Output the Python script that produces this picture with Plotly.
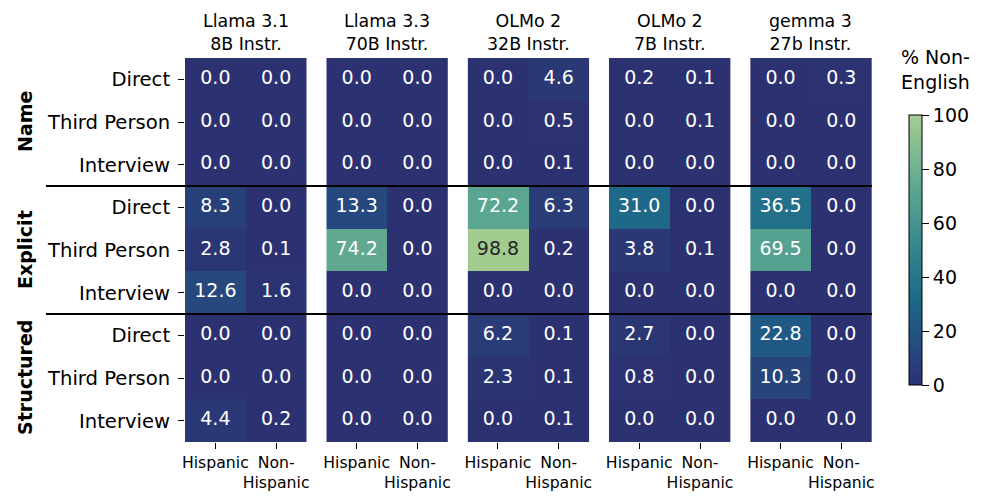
import plotly.graph_objects as go

# ---------------- data ----------------
models = ["Llama 3.1<br>8B Instr.", "Llama 3.3<br>70B Instr.", "OLMo 2<br>32B Instr.",
          "OLMo 2<br>7B Instr.", "gemma 3<br>27b Instr."]
groups = ["Name", "Explicit", "Structured"]
prompts = ["Direct", "Third Person", "Interview"]
ethnicities = ["Hispanic", "Non-<br>Hispanic"]

# rows: Name(Direct, Third Person, Interview), Explicit(...), Structured(...)
llama31_hisp = [0.0, 0.0, 0.0, 8.3, 2.8, 12.6, 0.0, 0.0, 4.4]
llama31_nonhisp = [0.0, 0.0, 0.0, 0.0, 0.1, 1.6, 0.0, 0.0, 0.2]
llama33_hisp = [0.0, 0.0, 0.0, 13.3, 74.2, 0.0, 0.0, 0.0, 0.0]
llama33_nonhisp = [0.0, 0.0, 0.0, 0.0, 0.0, 0.0, 0.0, 0.0, 0.0]
olmo32_hisp = [0.0, 0.0, 0.0, 72.2, 98.8, 0.0, 6.2, 2.3, 0.0]
olmo32_nonhisp = [4.6, 0.5, 0.1, 6.3, 0.2, 0.0, 0.1, 0.1, 0.1]
olmo7_hisp = [0.2, 0.0, 0.0, 31.0, 3.8, 0.0, 2.7, 0.8, 0.0]
olmo7_nonhisp = [0.1, 0.1, 0.0, 0.0, 0.1, 0.0, 0.0, 0.0, 0.0]
gemma_hisp = [0.0, 0.0, 0.0, 36.5, 69.5, 0.0, 22.8, 10.3, 0.0]
gemma_nonhisp = [0.3, 0.0, 0.0, 0.0, 0.0, 0.0, 0.0, 0.0, 0.0]

colorbar_ticks = [0, 20, 40, 60, 80, 100]

panels = [
    (llama31_hisp, llama31_nonhisp),
    (llama33_hisp, llama33_nonhisp),
    (olmo32_hisp, olmo32_nonhisp),
    (olmo7_hisp, olmo7_nonhisp),
    (gemma_hisp, gemma_nonhisp),
]

# seaborn "crest" reversed
crest_r = [
    [0.0, "#2c3172"], [1 / 7, "#254b7f"], [2 / 7, "#1c6488"], [3 / 7, "#287a8c"],
    [4 / 7, "#40908e"], [5 / 7, "#59a590"], [6 / 7, "#7dba91"], [1.0, "#a5cd90"],
]

W, H = 996, 504
FONT = "DejaVu Sans"
row_labels = prompts * len(groups)
n_rows = len(row_labels)

fig = go.Figure()
layout = {}
for i, (hisp, nonhisp) in enumerate(panels):
    k = "" if i == 0 else str(i + 1)
    z = [[h, n] for h, n in zip(hisp, nonhisp)]
    fig.add_trace(go.Heatmap(
        z=z, x=[0, 1], y=list(range(n_rows)), coloraxis="coloraxis",
        xaxis="x" + k, yaxis="y" + k, hoverinfo="skip",
    ))
    # cell annotations
    tx, ty, tt, tc = [], [], [], []
    for r in range(n_rows):
        for c, v in enumerate((hisp[r], nonhisp[r])):
            tx.append(c)
            ty.append(r)
            tt.append(f"{v:.1f}")
            tc.append("#262626" if v > 85 else "#ffffff")
    fig.add_trace(go.Scatter(
        x=tx, y=ty, text=tt, mode="text", textposition="middle center",
        textfont=dict(size=19, color=tc, family=FONT),
        xaxis="x" + k, yaxis="y" + k, showlegend=False, hoverinfo="skip",
    ))
    left = (185 + i * 141.3) / W
    right = left + 121.5 / W
    layout["xaxis" + k] = dict(
        domain=[left, right], range=[-0.5, 1.5], tickvals=[0, 1], ticktext=ethnicities,
        tickangle=0, ticks="outside", ticklen=6, tickcolor="black", showgrid=False,
        zeroline=False, showline=False,
        tickfont=dict(size=15.7, color="black", family=FONT),
        anchor="y" + k, automargin=False, fixedrange=True,
    )
    layout["yaxis" + k] = dict(
        domain=[(H - 442) / H, (H - 58) / H], range=[n_rows - 0.5, -0.5],
        tickvals=list(range(n_rows)), ticktext=row_labels if i == 0 else [""] * n_rows,
        ticks="outside" if i == 0 else "", ticklen=6, tickcolor="black",
        showticklabels=(i == 0), showgrid=False, zeroline=False, showline=False,
        tickfont=dict(size=19.6, color="black", family=FONT), ticklabelstandoff=4,
        anchor="x" + k, automargin=False, fixedrange=True,
    )
    fig.add_annotation(
        text=models[i], xref="paper", yref="paper", x=(left + right) / 2,
        y=(H - 56) / H, xanchor="center", yanchor="bottom", showarrow=False,
        font=dict(size=17.4, color="black", family=FONT),
    )

# group labels
for g, name in enumerate(groups):
    fig.add_annotation(
        text=f"<b>{name}</b>", xref="paper", yref="y", x=25 / W, y=g * 3 + 1,
        xanchor="center", yanchor="middle", textangle=-90, showarrow=False,
        font=dict(size=19, color="black", family=FONT),
    )

# separator lines between groups
for g in range(1, len(groups)):
    fig.add_shape(
        type="line", xref="paper", yref="y", x0=46 / W, x1=872 / W,
        y0=g * 3 - 0.5, y1=g * 3 - 0.5, line=dict(color="black", width=2),
    )

# colorbar title
fig.add_annotation(
    text="% Non-<br>English", xref="paper", yref="paper", x=935 / W, y=(H - 95) / H,
    xanchor="center", yanchor="bottom", showarrow=False,
    font=dict(size=19, color="black", family=FONT),
)

fig.update_layout(
    width=W, height=H, margin=dict(l=0, r=0, t=0, b=0),
    paper_bgcolor="white", plot_bgcolor="white",
    font=dict(family=FONT, color="black"),
    showlegend=False,
    coloraxis=dict(
        colorscale=crest_r, cmin=0, cmax=100,
        colorbar=dict(
            x=909 / W, xanchor="left", y=(H - 385) / H, yanchor="bottom",
            len=270 / H, lenmode="fraction", thickness=13, thicknessmode="pixels",
            outlinewidth=1, outlinecolor="black", ticks="outside", ticklen=7,
            tickcolor="black", tickvals=colorbar_ticks,
            tickfont=dict(size=19, color="black", family=FONT), xpad=0, ypad=0,
        ),
    ),
    **layout,
)

fig.write_html(
    "out.html",
    config={"displayModeBar": False},
    post_script="document.body.style.margin='0';document.body.style.overflow='hidden';",
)
